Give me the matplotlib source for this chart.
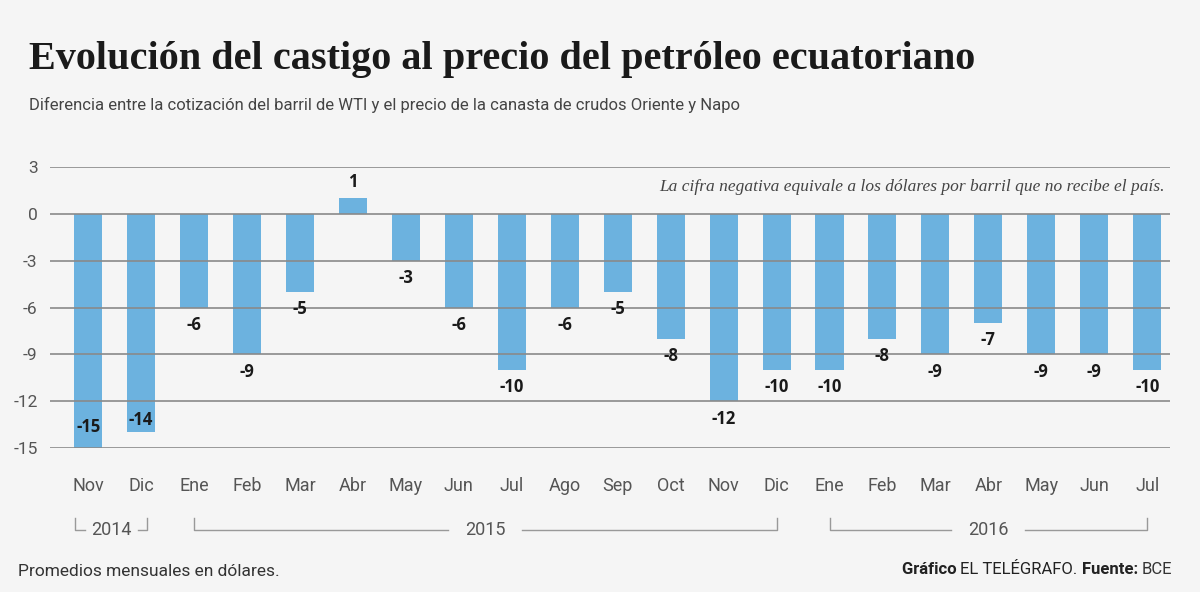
import matplotlib.pyplot as plt
import matplotlib.transforms as mtransforms

months = ['Nov', 'Dic', 'Ene', 'Feb', 'Mar', 'Abr', 'May', 'Jun', 'Jul', 'Ago', 'Sep',
          'Oct', 'Nov', 'Dic', 'Ene', 'Feb', 'Mar', 'Abr', 'May', 'Jun', 'Jul']
values = [-15, -14, -6, -9, -5, 1, -3, -6, -10, -6, -5, -8, -12, -10, -10, -8, -9, -7, -9, -9, -10]
years = ['2014', '2015', '2016']
year_spans = [(0, 1), (2, 13), (14, 20)]
yticks = [3, 0, -3, -6, -9, -12, -15]

bg = '#f5f5f5'
bar_color = '#6cb2df'
grey = '#555555'
sans = ['Roboto', 'DejaVu Sans']
lab_font = ['Open Sans', 'DejaVu Sans']

fig = plt.figure(figsize=(12, 5.92), dpi=100, facecolor=bg)
ax = fig.add_axes([0.0417, 0.2432, 0.9333, 0.4747], facecolor=bg)

x = list(range(len(values)))
ax.bar(x, values, width=0.53, color=bar_color, zorder=1)

for xi, v in zip(x, values):
    if v > 0:
        off, va = (0, 5), 'bottom'
    elif v == min(values):
        off, va = (0, 15), 'center'
    elif v <= -14:
        off, va = (0, 9), 'center'
    else:
        off, va = (0, -6), 'top'
    ax.annotate(str(v), (xi, v), xytext=off, textcoords='offset points',
                ha='center', va=va, fontsize=12, fontweight='bold',
                color='#1a1a1a', family=lab_font)

ax.set_xlim(-0.72, 20.43)
ax.set_ylim(-15, 3)
ax.set_yticks(yticks)
ax.set_yticklabels([str(t) for t in yticks], family=sans, fontsize=12.5, color=grey)
ax.set_xticks(x)
ax.set_xticklabels(months, family=sans, fontsize=13, color=grey)
ax.tick_params(length=0)
ax.tick_params(axis='x', pad=21)
ax.tick_params(axis='y', pad=9)
ax.set_axisbelow(False)
ax.grid(axis='y', color='#8a8a8a', linewidth=1.2)
for s in ax.spines.values():
    s.set_visible(False)

# year brackets under the month labels
tr = mtransforms.blended_transform_factory(ax.transData, ax.transAxes)
by = -0.29
bh = 0.04
for year, (a, b) in zip(years, year_spans):
    short = (b - a == 1)
    left = a - 0.25 if short else a
    right = b + 0.12 if short else b
    mid = (left + right) / 2
    gap = 0.5 if short else 0.7
    ax.plot([left, left, mid - gap], [by + bh, by, by], color='#999999', lw=1,
            transform=tr, clip_on=False)
    ax.plot([mid + gap, right, right], [by, by, by + bh], color='#999999', lw=1,
            transform=tr, clip_on=False)
    ax.text(mid, by, year, transform=tr, ha='center', va='center', fontsize=13,
            color=grey, family=sans)

ax.text(0.995, 0.929, 'La cifra negativa equivale a los dólares por barril que no recibe el país.',
        transform=ax.transAxes, ha='right', va='center', fontsize=12.5,
        style='italic', color='#444444', family=['Liberation Serif', 'DejaVu Serif'])

fig.text(0.024, 0.9, 'Evolución del castigo al precio del petróleo ecuatoriano',
         fontsize=29, fontweight='bold', color='#1a1a1a',
         family=['Liberation Serif', 'DejaVu Serif'], va='center')
fig.text(0.024, 0.823, 'Diferencia entre la cotización del barril de WTI y el precio de la canasta de crudos Oriente y Napo',
         fontsize=12, color='#444444', family=sans, va='center')
fig.text(0.015, 0.035, 'Promedios mensuales en dólares.', fontsize=12.5,
         color='#333333', family=sans, va='center')

# source line, built right to left
t = fig.text(0.977, 0.025, 'BCE', fontsize=12, color='#333333', family=sans,
             ha='right', va='bottom')
for piece, bold in [('Fuente: ', True), ('EL TELÉGRAFO. ', False), ('Gráfico ', True)]:
    t = ax.annotate(piece, xy=(0, 0), xycoords=t, ha='right', va='bottom', fontsize=12,
                    color='#222222', family=sans,
                    fontweight='bold' if bold else 'normal', annotation_clip=False)

fig.savefig('out.png', dpi=100, facecolor=bg)
